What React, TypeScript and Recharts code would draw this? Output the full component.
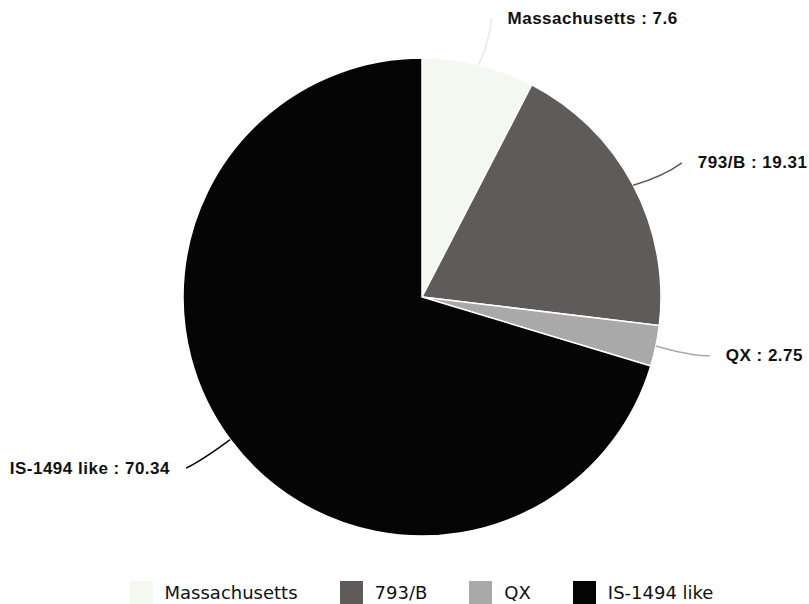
import React from 'react'
import { PieChart, Pie, Cell, Legend } from 'recharts'

const strains = ['Massachusetts', '793/B', 'QX', 'IS-1494 like']
const shares = [7.6, 19.31, 2.75, 70.34]
const fills = ['#f3f8f1', '#5f5b5a', '#a9a9a9', '#050505']

const data = strains.map((name, i) => ({ name, value: shares[i] }))

const RAD = Math.PI / 180

// label with a slightly bent leader line pulled outward from the slice
const renderLabel = (props: any) => {
    const { cx, cy, midAngle, outerRadius, index, name, value } = props
    const cos = Math.cos(-midAngle * RAD)
    const sin = Math.sin(-midAngle * RAD)
    const sx = cx + outerRadius * cos
    const sy = cy + outerRadius * sin
    const mx = cx + (outerRadius + 30) * cos
    const my = cy + (outerRadius + 28) * sin
    const ex = cx + (outerRadius + 55) * cos
    const ey = cy + (outerRadius + 48) * sin
    const right = cos >= 0
    const tx = ex + (right ? 16 : -16)
    const lineColor = index === 0 ? '#e6ebe4' : fills[index]
    return (
        <g key={`lbl-${index}`}>
            <path
                d={`M${sx},${sy} Q${mx + (right ? 4 : -4)},${my + 4} ${ex},${ey}`}
                stroke={lineColor}
                strokeWidth={1.5}
                fill="none"
            />
            <text
                x={tx}
                y={ey}
                textAnchor={right ? 'start' : 'end'}
                dominantBaseline="central"
                fontFamily="'Liberation Sans', Arial, sans-serif"
                fontWeight={700}
                fontSize={17}
                letterSpacing={0.5}
                fill="#111"
            >
                {`${name} : ${value}`}
            </text>
        </g>
    )
}

const renderLegend = () => (
    <div
        style={{
            display: 'flex',
            justifyContent: 'center',
            alignItems: 'center',
            gap: 42,
            paddingLeft: 34,
            fontFamily: "'DejaVu Sans', sans-serif",
            fontSize: 18,
            color: '#111',
        }}
    >
        {strains.map((s, i) => (
            <div key={s} style={{ display: 'flex', alignItems: 'center', gap: 12 }}>
                <span style={{ width: 23, height: 23, background: fills[i], display: 'inline-block' }} />
                {s}
            </div>
        ))}
    </div>
)

export default function App() {
    return (
        <div style={{ position: 'absolute', left: 0, top: 0, background: '#fff' }}>
            <PieChart width={809} height={604}>
                <Pie
                    data={data}
                    dataKey="value"
                    nameKey="name"
                    cx={417}
                    cy={292}
                    outerRadius={239}
                    startAngle={90}
                    endAngle={-270}
                    stroke="#fff"
                    strokeWidth={1.5}
                    label={renderLabel}
                    labelLine={false}
                    isAnimationActive={false}
                >
                    {data.map((d, i) => (
                        <Cell key={d.name} fill={fills[i]} />
                    ))}
                </Pie>
                <Legend
                    content={renderLegend}
                    verticalAlign="bottom"
                    wrapperStyle={{ bottom: 0 }}
                />
            </PieChart>
        </div>
    )
}
